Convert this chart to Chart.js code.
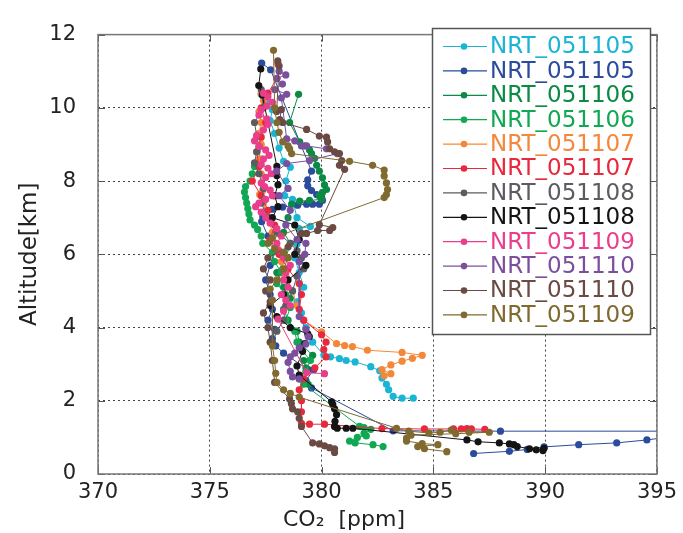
<!DOCTYPE html>
<html><head><meta charset="utf-8">
<script src="https://cdn.jsdelivr.net/npm/chart.js@4.4.1/dist/chart.umd.min.js"></script>
<style>html,body{margin:0;padding:0;background:#fff;}#wrap{width:683px;height:533px;position:relative;}</style>
</head><body><div id="wrap"><canvas id="c" width="683" height="533"></canvas></div>
<script>
// Axis ticks
const xTicks = [370, 375, 380, 385, 390, 395];
const yTicks = [0, 2, 4, 6, 8, 10, 12];
// Series labels & colours
const seriesLabels = ['NRT_051105','NRT_051105','NRT_051106','NRT_051106','NRT_051107','NRT_051107','NRT_051108','NRT_051108','NRT_051109','NRT_051110','NRT_051110','NRT_051109'];
const seriesColors = ['#1ab4d4','#2b4c9c','#0b8a45','#10a852','#f4883a','#e8283c','#5a5c61','#141414','#ea3d8c','#7b4f9e','#6a4a42','#806a2f'];
// [CO2 ppm, altitude km]
const s1_cyan = [[377.3,10.37],[377.5,10.2],[377.8,9.95],[377.7,9.65],[377.9,9.3],[378.1,8.9],[378.3,8.54],[378.6,8.38],[378.4,8.0],[378.35,7.6],[378.7,7.5],[378.9,7.0],[379.5,6.76],[379.0,6.7],[378.9,6.28],[378.8,5.9],[379.0,5.5],[379.2,5.1],[378.9,4.7],[379.1,4.4],[379.3,4.0],[379.6,3.6],[380.1,3.25],[380.4,3.2],[380.8,3.15],[381.1,3.1],[381.5,3.06],[382.2,2.93],[382.6,2.82],[382.7,2.62],[382.9,2.45],[383.0,2.3],[383.2,2.12],[383.6,2.07],[384.1,2.07]];
const s2_blue = [[377.32,11.22],[377.72,11.04],[379.55,8.27],[379.38,8.03],[379.38,7.87],[379.55,7.74],[379.78,7.63],[380.0,7.55],[380.04,7.47],[379.9,7.37],[379.6,7.37],[379.33,7.37],[378.93,7.34],[378.26,7.29],[377.8,7.23],[377.37,7.02],[377.32,6.89],[377.6,6.5],[377.9,6.1],[377.7,5.7],[377.5,5.3],[377.7,4.9],[377.8,4.5],[377.6,4.2],[377.9,3.95],[377.8,3.7],[377.95,3.5],[378.3,3.3],[379.4,2.85],[379.65,2.85],[379.3,2.55],[379.55,2.35],[383.2,1.18],[388.0,1.17],[397.5,1.17],[394.55,0.93],[393.2,0.85],[391.5,0.8],[389.95,0.74],[389.2,0.67],[388.4,0.62],[386.8,0.56]];
const s3_darkgreen = [[378.97,10.37],[378.57,9.6],[379.02,9.07],[379.24,8.96],[379.46,8.85],[379.55,8.75],[379.69,8.62],[379.78,8.43],[379.9,8.27],[380.04,8.09],[380.13,7.9],[380.22,7.77],[380.04,7.69],[379.9,7.6],[380.0,7.5],[379.46,7.47],[379.02,7.45],[378.66,7.37],[378.5,7.0],[378.3,6.6],[378.6,6.3],[378.4,5.9],[378.0,5.5],[378.3,5.1],[378.6,4.8],[378.3,4.5],[378.5,4.2],[378.9,3.9],[379.0,3.6],[379.6,3.24],[379.2,3.1],[379.3,2.9],[379.0,2.6],[379.4,2.45]];
const s4_green = [[377.3,8.6],[377.0,8.4],[376.9,8.2],[376.8,8.0],[376.6,7.85],[376.55,7.7],[376.6,7.55],[376.65,7.4],[376.7,7.25],[376.75,7.1],[376.8,6.94],[377.0,6.8],[377.14,6.68],[377.3,6.5],[377.37,6.3],[377.8,6.05],[377.9,5.8],[378.2,5.5],[378.0,5.2],[378.4,4.9],[378.6,4.55],[378.4,4.2],[378.8,3.9],[378.9,3.6],[379.1,3.4],[379.5,3.1],[379.3,2.8],[379.2,2.45],[381.7,1.3],[381.9,1.27],[382.2,1.22],[381.9,1.11],[382.0,1.04],[381.6,1.0],[381.25,0.9],[381.5,0.85],[382.3,0.8],[382.75,0.75]];
const s5_orange = [[377.3,10.4],[377.4,10.2],[377.2,9.9],[377.3,9.6],[377.2,9.3],[377.3,9.0],[377.2,8.6],[377.3,8.2],[377.37,7.74],[377.23,7.63],[377.4,7.4],[377.5,7.2],[377.6,7.0],[377.8,6.6],[378.0,6.2],[378.2,5.8],[378.4,5.4],[378.7,5.0],[378.9,4.6],[379.2,4.2],[380.0,3.88],[380.67,3.56],[381.03,3.51],[381.38,3.48],[382.05,3.38],[383.6,3.32],[384.5,3.24],[384.06,3.16],[383.6,3.08],[383.1,2.98],[382.7,2.85],[383.1,2.74],[382.8,2.68]];
const s6_red = [[378.05,11.2],[378.0,10.8],[377.6,10.4],[377.3,10.0],[377.5,9.6],[377.3,9.2],[377.1,8.8],[377.2,8.4],[376.9,8.0],[377.3,7.6],[377.6,7.2],[377.9,6.8],[377.7,6.4],[378.1,6.0],[378.5,5.6],[379.0,5.2],[379.1,4.9],[379.0,4.5],[379.2,4.2],[380.0,3.8],[380.2,3.6],[380.1,3.4],[380.2,3.2],[379.7,2.9],[379.2,2.6],[379.0,2.3],[379.1,2.0],[379.1,1.7],[379.1,1.38],[379.46,1.36],[380.13,1.36],[382.7,1.24],[384.6,1.23],[385.9,1.23],[386.25,1.23],[386.5,1.24],[386.7,1.23],[387.3,1.22]];
const s7_gray = [[377.3,10.5],[377.4,10.0],[377.0,9.6],[377.1,9.23],[377.2,8.94],[377.1,8.8],[377.0,8.5],[377.2,8.2],[377.4,7.8],[377.3,7.4],[377.6,7.0],[378.0,6.6],[378.6,6.3],[378.9,6.1],[379.1,5.9],[379.2,5.6],[378.9,5.4],[378.7,5.0],[378.4,4.6],[378.3,4.2],[378.0,3.9],[377.8,3.6]];
const s8_black = [[377.28,11.06],[377.19,10.61],[377.35,10.35],[378.0,8.4],[378.0,8.15],[378.05,7.9],[377.9,7.6],[378.05,7.3],[377.8,7.0],[378.8,6.8],[379.0,6.4],[378.8,6.0],[379.3,5.7],[378.5,5.3],[378.3,4.9],[377.7,4.6],[378.0,4.3],[378.6,4.0],[379.38,3.83],[379.45,3.75],[379.25,3.56],[379.15,3.35],[378.9,2.95],[379.0,2.7],[380.45,1.97],[380.5,1.9],[380.58,1.78],[380.67,1.62],[380.6,1.44],[380.58,1.3],[380.7,1.25],[381.1,1.25],[381.4,1.25],[386.5,0.93],[387.0,0.88],[387.95,0.85],[388.4,0.82],[388.6,0.8],[388.75,0.75],[389.3,0.69],[389.6,0.66],[389.9,0.64],[389.95,0.7]];
const s9_pink = [[377.4,10.4],[377.6,10.3],[377.8,10.15],[377.55,10.05],[377.3,9.95],[377.2,9.8],[377.55,9.7],[377.6,9.55],[377.4,9.4],[377.1,9.25],[377.0,9.1],[377.2,8.95],[377.5,8.85],[377.65,8.7],[377.4,8.6],[377.3,8.45],[377.6,8.35],[377.75,8.2],[377.5,8.1],[377.3,7.95],[377.45,7.85],[377.7,7.75],[377.8,7.6],[377.5,7.5],[377.2,7.4],[377.05,7.3],[377.3,7.15],[377.5,7.0],[377.7,6.85],[378.0,6.7],[378.2,6.5],[378.0,6.3],[378.1,6.1],[378.3,5.9],[378.6,5.7],[378.4,5.5],[378.3,5.3],[378.5,5.1],[378.2,4.9],[378.4,4.75],[378.6,4.6],[378.3,4.45],[378.05,4.23],[379.33,2.77],[380.13,2.74]];
const s10_purple = [[378.1,11.0],[378.4,10.9],[378.0,10.8],[378.25,10.65],[377.9,10.5],[378.44,10.37],[378.2,10.27],[378.44,9.15],[378.8,9.1],[379.1,8.96],[379.33,8.96],[380.22,8.88],[380.7,8.75],[379.46,8.56],[378.44,8.48],[377.99,8.27],[378.5,7.8],[378.1,7.6],[378.6,7.2],[378.4,6.8],[378.9,6.4],[379.3,6.3],[379.25,6.0],[379.0,5.8],[379.0,4.3],[379.3,3.95],[379.4,3.75],[379.3,3.55],[379.0,3.45],[378.8,3.3],[378.6,3.2],[378.5,3.05],[378.6,2.8],[378.7,2.65],[379.0,2.6]];
const s11_brown = [[378.04,11.28],[378.1,11.14],[377.99,9.9],[378.2,9.95],[378.13,9.68],[378.26,9.6],[379.33,9.41],[379.9,9.23],[380.22,9.2],[380.27,9.07],[380.36,8.88],[380.58,8.8],[380.8,8.75],[380.9,8.56],[380.8,8.43],[381.03,8.32],[379.9,6.81],[380.5,6.73],[380.36,6.65],[379.82,6.65],[379.33,6.57],[379.1,6.57],[378.5,6.2],[377.6,5.9],[377.4,5.6],[377.7,5.3],[377.5,5.0],[377.7,4.7],[377.4,4.4],[377.6,4.0],[377.7,3.6],[377.8,3.1],[377.9,2.5],[378.57,2.05],[378.65,1.92],[378.7,1.78],[378.93,1.7],[379.0,1.52],[379.1,1.3],[379.6,0.85],[379.9,0.82],[380.13,0.77],[380.36,0.72],[380.58,0.69],[380.58,0.59]];
const s12_olive = [[377.85,11.57],[377.9,10.0],[378.0,9.6],[378.1,9.33],[378.26,9.07],[378.5,8.96],[378.57,8.88],[378.66,8.75],[381.25,8.54],[382.28,8.43],[382.8,8.3],[382.8,8.14],[382.9,7.95],[382.95,7.77],[382.9,7.63],[382.8,7.55],[377.8,6.44],[377.6,6.3],[377.9,6.15],[378.3,6.05],[378.5,5.9],[378.3,5.6],[378.0,5.3],[377.7,5.05],[377.8,4.75],[377.8,3.5],[377.9,3.1],[377.95,2.75],[378.0,2.5],[378.3,2.3],[378.6,2.2],[379.0,2.1],[383.35,1.25],[383.9,1.17],[384.8,1.12],[385.3,1.14],[385.8,1.2],[386.6,1.14],[387.5,1.14],[386.0,1.1],[384.0,1.06],[383.8,0.98],[383.8,0.9],[384.5,0.83],[385.2,0.8],[384.3,0.75],[384.6,0.69],[385.6,0.61]];

const allSeries = [s1_cyan,s2_blue,s3_darkgreen,s4_green,s5_orange,s6_red,s7_gray,s8_black,s9_pink,s10_purple,s11_brown,s12_olive];
const FONT = 'DejaVu Sans';

const datasets = allSeries.map((s, i) => ({
  label: seriesLabels[i],
  data: s.map(p => ({x: p[0], y: p[1]})),
  showLine: true,
  borderColor: seriesColors[i],
  backgroundColor: seriesColors[i],
  pointBackgroundColor: seriesColors[i],
  pointBorderWidth: 0,
  pointRadius: 3.6,
  borderWidth: 1,
  tension: 0,
  order: allSeries.length - i
}));

const framePlugin = {
  id: 'frame',
  afterDraw(chart) {
    const {ctx, chartArea: a, scales} = chart;
    ctx.save();
    // inner tick marks
    ctx.strokeStyle = '#555'; ctx.lineWidth = 1;
    ctx.beginPath();
    xTicks.forEach(v => {
      const px = Math.round(scales.x.getPixelForValue(v)) + 0.5;
      ctx.moveTo(px, a.bottom); ctx.lineTo(px, a.bottom - 7);
      ctx.moveTo(px, a.top); ctx.lineTo(px, a.top + 7);
    });
    yTicks.forEach(v => {
      const py = Math.round(scales.y.getPixelForValue(v)) + 0.5;
      ctx.moveTo(a.left, py); ctx.lineTo(a.left + 7, py);
      ctx.moveTo(a.right, py); ctx.lineTo(a.right - 7, py);
    });
    ctx.stroke();
    // box
    ctx.strokeStyle = '#777'; ctx.lineWidth = 1.5;
    ctx.strokeRect(a.left, a.top, a.right - a.left, a.bottom - a.top);
    // x title
    ctx.fillStyle = '#222';
    ctx.font = '22px "' + FONT + '"';
    ctx.textAlign = 'center'; ctx.textBaseline = 'middle';
    ctx.fillText('CO\u2082  [ppm]', 344, 520);
    // legend
    const lx = 432.5, ly = 28.5, lw = 218, lh = 306;
    ctx.fillStyle = '#fff';
    ctx.fillRect(lx, ly, lw, lh);
    ctx.strokeStyle = '#555'; ctx.lineWidth = 1.5;
    ctx.strokeRect(lx, ly, lw, lh);
    ctx.font = '23px "' + FONT + '"';
    ctx.textAlign = 'left'; ctx.textBaseline = 'middle';
    seriesLabels.forEach((lab, i) => {
      const y = 46.5 + i * 24.4;
      ctx.strokeStyle = seriesColors[i]; ctx.lineWidth = 1.2;
      ctx.beginPath(); ctx.moveTo(443, y); ctx.lineTo(487, y); ctx.stroke();
      ctx.fillStyle = seriesColors[i];
      ctx.beginPath(); ctx.arc(464, y, 3.3, 0, Math.PI * 2); ctx.fill();
      ctx.fillText(lab, 490, y + 1);
    });
    ctx.restore();
  }
};

new Chart(document.getElementById('c'), {
  type: 'scatter',
  data: {datasets},
  options: {
    responsive: false,
    animation: false,
    devicePixelRatio: 1,
    layout: {padding: {top: 23, right: 25, bottom: 0, left: 0}},
    plugins: {legend: {display: false}, tooltip: {enabled: false}},
    scales: {
      x: {
        type: 'linear', min: 370, max: 395, position: 'bottom',
        afterBuildTicks: s => { s.ticks = xTicks.map(v => ({value: v})); },
        ticks: {font: {family: FONT, size: 21}, color: '#222', padding: 6, maxRotation: 0},
        grid: {color: '#444', lineWidth: 1, drawTicks: false},
        border: {display: false, dash: [2, 3]},
        afterFit: s => { s.height = 59; }
      },
      y: {
        type: 'linear', min: 0, max: 12,
        afterBuildTicks: s => { s.ticks = yTicks.map(v => ({value: v})); },
        ticks: {font: {family: FONT, size: 21}, color: '#222', padding: 22},
        grid: {color: '#444', lineWidth: 1, drawTicks: false},
        border: {display: false, dash: [2, 3]},
        title: {display: true, text: 'Altitude[km]', font: {family: FONT, size: 23}, color: '#222', padding: {top: 16, bottom: 0}},
        afterFit: s => { s.width = 98; }
      }
    }
  },
  plugins: [framePlugin]
});
</script></body></html>
